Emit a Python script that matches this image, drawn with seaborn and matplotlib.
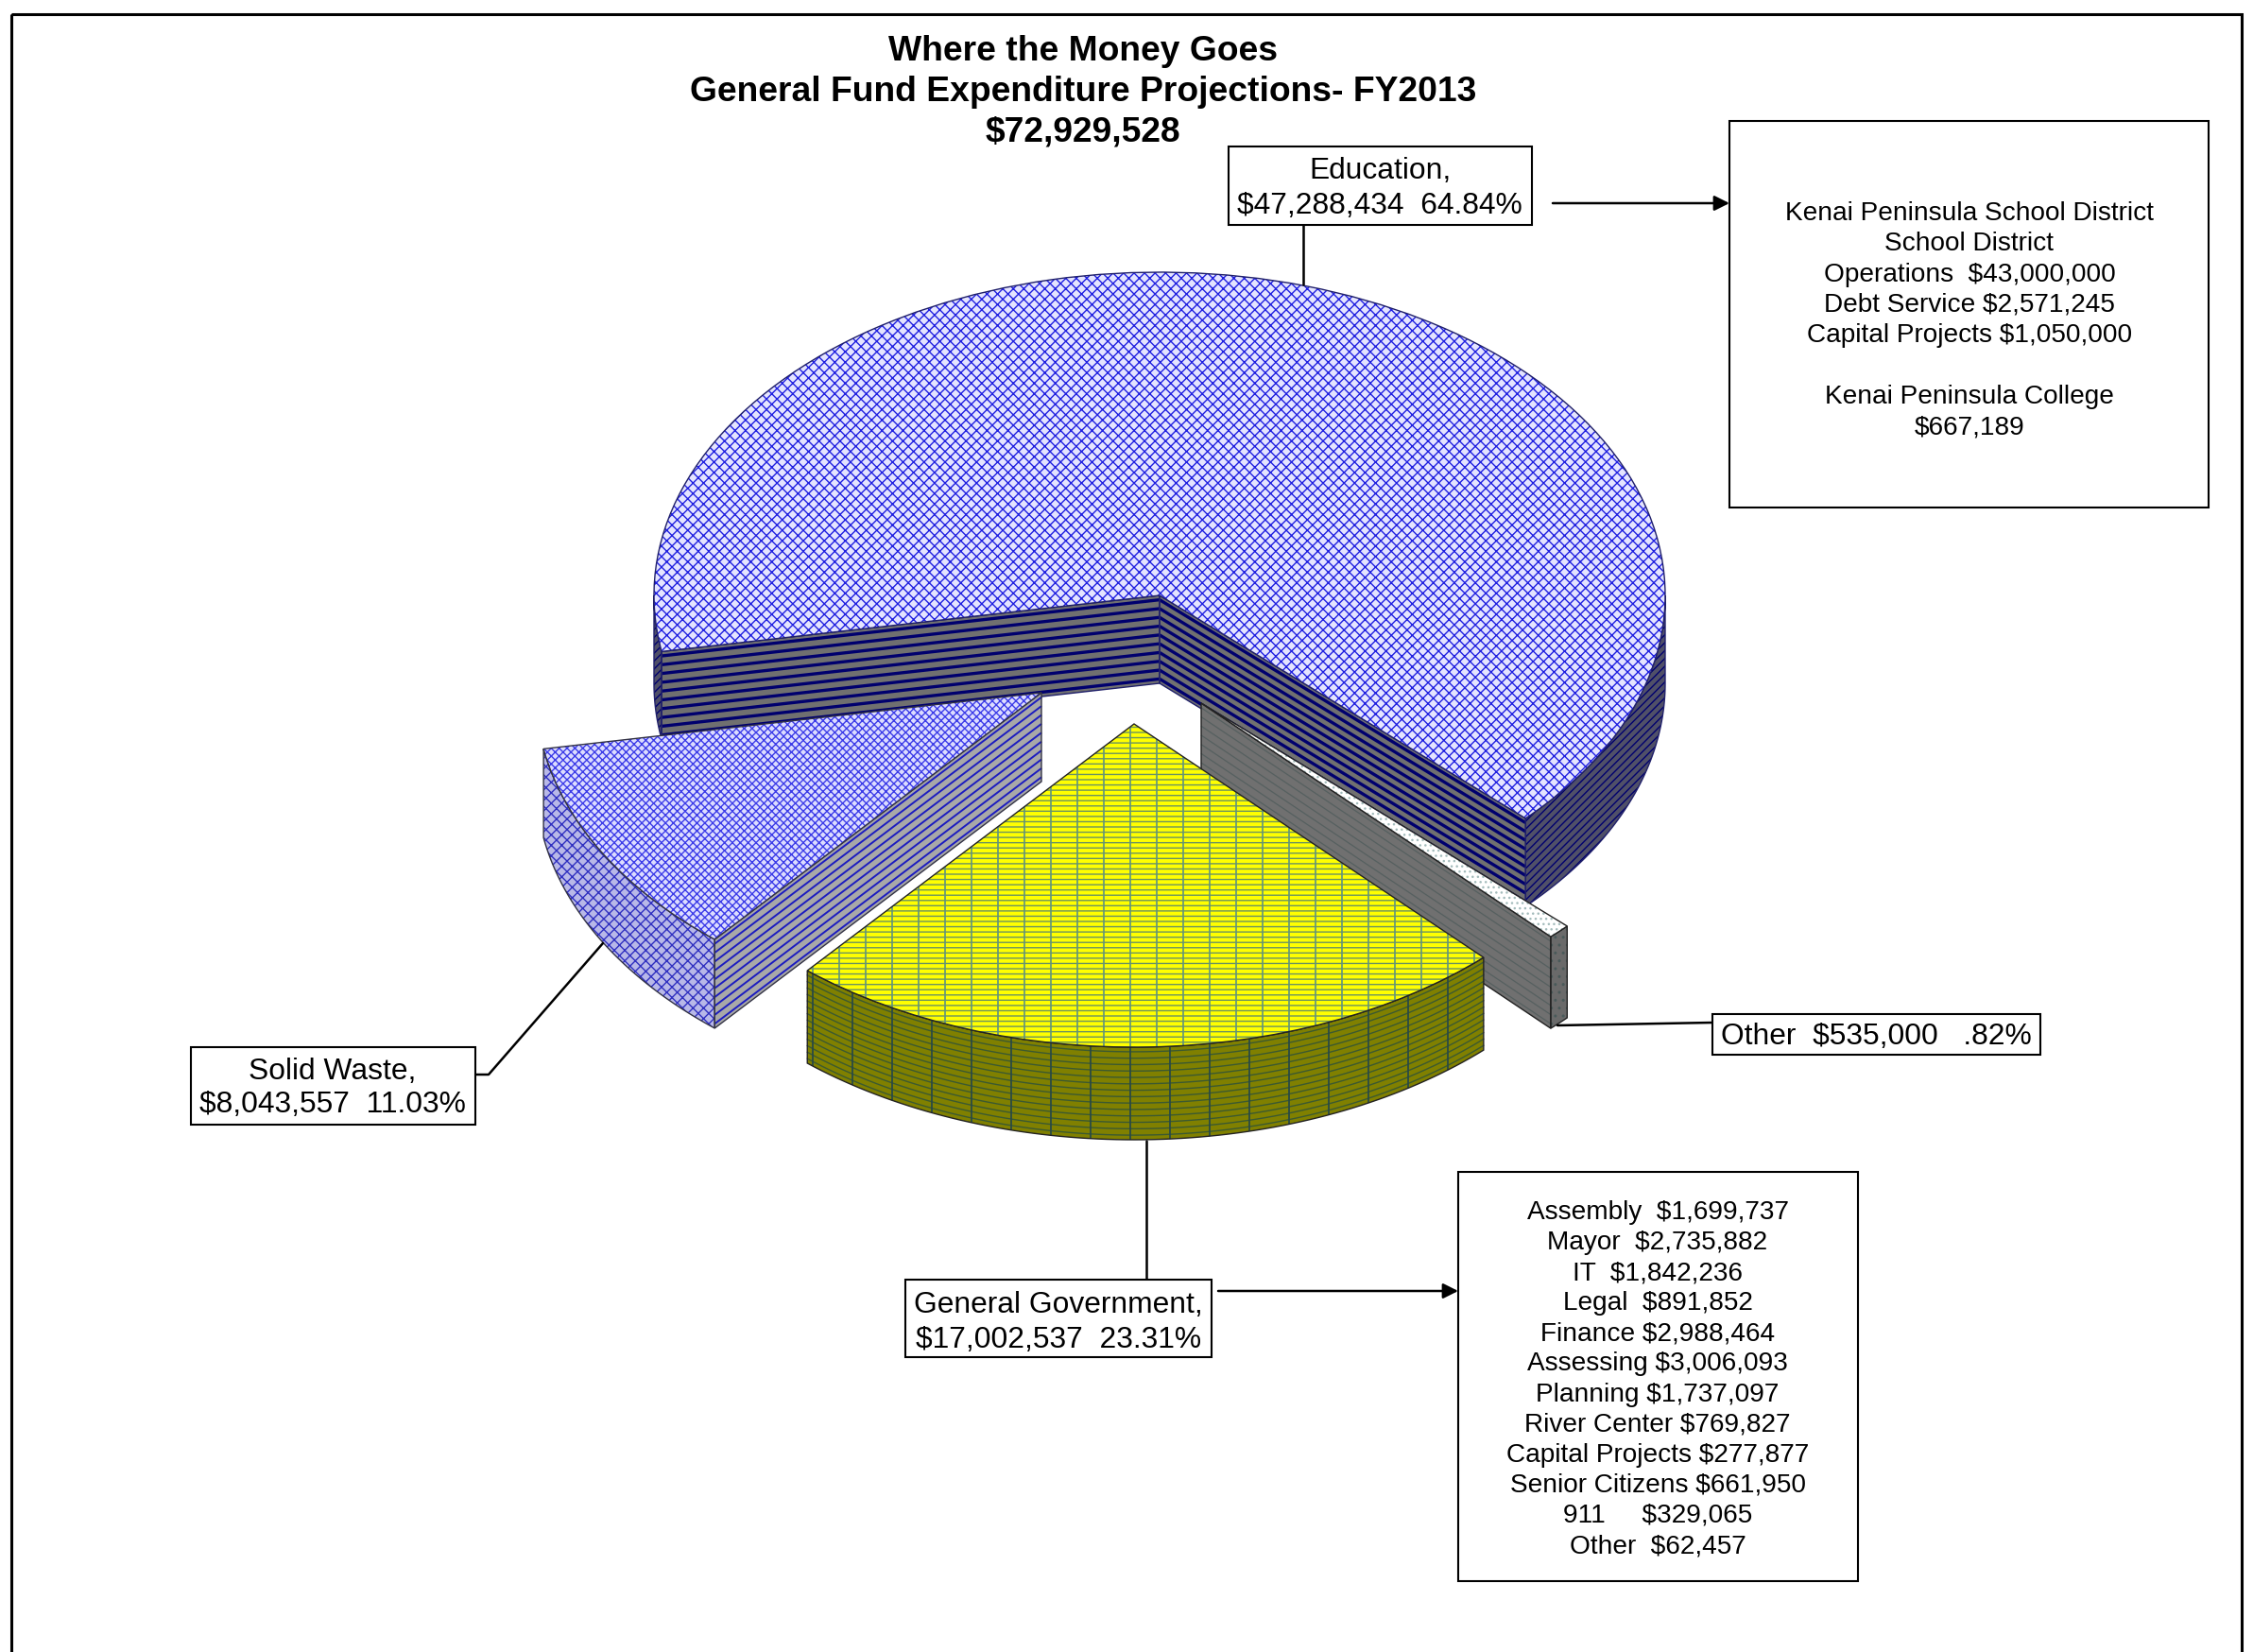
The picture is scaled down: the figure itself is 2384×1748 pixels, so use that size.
import numpy as np
import matplotlib
matplotlib.use('Agg')
import matplotlib.pyplot as plt
import seaborn as sns
from matplotlib.patches import Polygon, Rectangle, Wedge

# data, clockwise from the cut on the left of the Education slice
slices = ['Education', 'Other', 'General Government', 'Solid Waste']
amounts = [47288434, 535000, 17002537, 8043557]

title_lines = ['Where the Money Goes', 'General Fund Expenditure Projections- FY2013', '$72,929,528']
education_label = ['Education,', '$47,288,434  64.84%']
solid_label = ['Solid Waste,', '$8,043,557  11.03%']
other_label = ['Other  $535,000   .82%']
general_label = ['General Government,', '$17,002,537  23.31%']
education_detail = ['Kenai Peninsula School District', 'School District', 'Operations  $43,000,000',
                    'Debt Service $2,571,245', 'Capital Projects $1,050,000', '',
                    'Kenai Peninsula College', '$667,189']
general_detail = ['Assembly  $1,699,737', 'Mayor  $2,735,882', 'IT  $1,842,236', 'Legal  $891,852',
                  'Finance $2,988,464', 'Assessing $3,006,093', 'Planning $1,737,097',
                  'River Center $769,827', 'Capital Projects $277,877', 'Senior Citizens $661,950',
                  '911     $329,065', 'Other  $62,457']

W, H = 2384, 1749
CX, CY = 1227, 631   # pie centre in image pixels
RX, RY = 535, 342    # projected radii in pixels

# where each slice apex sits in the image, and how it is drawn
styles = {
    'Education': dict(apex=(1227, 631), depth=93, top='#e4e4ff', top_hatch='xxx', top_ink='#2020e0',
                      wall='#505068', wall_hatch='////', wall_ink='#00006e', rim='#20206a',
                      cut='#707070', cut_ink='#00006e', cut_lw=2.4, stripes=10, cuts=[0, 1]),
    'Other': dict(apex=(1271, 745), depth=97, top='#ffffff', top_hatch='...', top_ink='#a4bcbc',
                  wall='#6a6a6a', wall_hatch='..', wall_ink='#4a5a5a', rim='#222222',
                  cut='#707070', cut_ink='#566060', cut_lw=0.9, stripes=10, cuts=[0]),
    'General Government': dict(apex=(1200, 767), depth=98, top='#ffff00', top_hatch='---', top_ink='#6c9460',
                               wall='#808000', wall_hatch=None, wall_ink='#3c5a30', rim='#222222',
                               cut='#808000', cut_ink='#3c5a30', cut_lw=1, stripes=0, cuts=[]),
    'Solid Waste': dict(apex=(1102, 734), depth=94, top='#dcdcff', top_hatch='xxxx', top_ink='#3c3ce8',
                        wall='#b8b8e8', wall_hatch='xxx', wall_ink='#3030c0', rim='#333344',
                        cut='#a8a8a8', cut_ink='#1c1cc0', cut_lw=1.4, stripes=10, cuts=[1]),
}


def to_pie(px, py):
    return (px - CX) / RX, (CY - py) / RY


def arc(center, t1, t2, drop=0.0):
    t = np.radians(np.linspace(t1, t2, 80))
    return np.column_stack([center[0] + np.cos(t), center[1] + np.sin(t) - drop])


def front_ranges(t1, t2):
    # parts of the rim that face the viewer
    out = []
    for lo, hi in [(-180, 0), (180, 360)]:
        a, b = max(t1, lo), min(t2, hi)
        if b > a:
            out.append((a, b))
    return out


def draw_walls(ax, center, wedge, st, z):
    drop = st['depth'] / RY
    outline = dict(edgecolor=st['rim'], linewidth=1.0, fill=False, zorder=z + 0.3)
    # radial cut faces
    for which in st['cuts']:
        t = wedge.theta1 if which == 0 else wedge.theta2
        end = arc(center, t, t)[0]
        pts = [center, end, (end[0], end[1] - drop), (center[0], center[1] - drop)]
        ax.add_patch(Polygon(pts, closed=True, facecolor=st['cut'], edgecolor='none', zorder=z))
        for k in np.linspace(0.05, 0.95, st['stripes']):
            ax.plot([center[0], end[0]], [center[1] - k * drop, end[1] - k * drop],
                    color=st['cut_ink'], lw=st['cut_lw'], solid_capstyle='butt', zorder=z + 0.1)
        ax.add_patch(Polygon(pts, closed=True, **outline))
    # outer rim
    for a, b in front_ranges(wedge.theta1, wedge.theta2):
        pts = np.vstack([arc(center, a, b), arc(center, b, a, drop)])
        ax.add_patch(Polygon(pts, closed=True, facecolor=st['wall'], edgecolor=st['wall_ink'],
                             hatch=st['wall_hatch'], linewidth=0, zorder=z))
        rim = Polygon(pts, closed=True, **outline)
        ax.add_patch(rim)
        if st['wall_hatch'] is None:
            # brick courses follow the curve of the rim
            for k in np.linspace(0.05, 0.95, 14):
                course = arc(center, a, b, k * drop)
                ax.plot(course[:, 0], course[:, 1], color=st['wall_ink'], lw=1.0, zorder=z + 0.1)
            xs = np.arange(-1, 1, 42 / RX)
            ticks = ax.vlines(xs, -3, 3, color='#2a4a44', lw=1.3, zorder=z + 0.1)
            ticks.set_clip_path(rim)


sns.set_theme(style='white', rc={'hatch.linewidth': 1.0})
plt.rcParams['font.family'] = ['Liberation Sans', 'DejaVu Sans']

fig = plt.figure(figsize=(W / 100, H / 100), dpi=100, facecolor='white')
ax = fig.add_axes([0, 0, 1, 1])
wedges, _ = ax.pie(amounts, startangle=190, counterclock=False, radius=1.0)
ax.set_aspect('auto')
ax.set_xlim(to_pie(0, 0)[0], to_pie(W, 0)[0])
ax.set_ylim(to_pie(0, H)[1], to_pie(0, 0)[1])
ax.axis('off')

for i, (name, wedge) in enumerate(zip(slices, wedges)):
    st = styles[name]
    z = 2 + i * 2
    center = to_pie(*st['apex'])
    draw_walls(ax, center, wedge, st, z)
    wedge.set_center(center)
    wedge.set(facecolor=st['top'], edgecolor=st['top_ink'], hatch=st['top_hatch'], linewidth=0, zorder=z + 1)
    rim = Wedge(center, 1.0, wedge.theta1, wedge.theta2, fill=False, edgecolor=st['rim'],
                linewidth=1.0, zorder=z + 1.2)
    ax.add_patch(rim)
    if name == 'General Government':
        xs = np.arange(-1, 1, 28 / RX)
        ticks = ax.vlines(xs, -3, 3, color='#5f9480', lw=1.2, zorder=z + 1.1)
        ticks.set_clip_path(rim)

# overlay in image pixels for the frame, boxes and leaders
ov = fig.add_axes([0, 0, 1, 1], facecolor='none')
ov.set_xlim(0, W)
ov.set_ylim(H, 0)
ov.axis('off')
sns.despine(ax=ov, left=True, bottom=True)
ov.add_patch(Rectangle((12, 16), 2360, 1800, fill=False, edgecolor='black', lw=2.2))


def text_block(lines, x, y0, step, size, bold=False):
    for k, line in enumerate(lines):
        ov.text(x, y0 + k * step, line, ha='center', va='center', fontsize=size, color='black',
                fontweight='bold' if bold else 'normal')


def box(x0, y0, x1, y1):
    ov.add_patch(Rectangle((x0, y0), x1 - x0, y1 - y0, facecolor='white', edgecolor='black', lw=1.5, zorder=5))


def leader(xs, ys):
    ov.plot(xs, ys, color='black', lw=1.8, zorder=4)


def arrow(x0, x1, y):
    ov.annotate('', xy=(x1, y), xytext=(x0, y),
                arrowprops=dict(arrowstyle='-|>', color='black', lw=1.8, mutation_scale=24, shrinkA=0, shrinkB=0))


text_block(title_lines, 1146, 55, 42.5, 26.85, bold=True)

box(1300, 156, 1621, 239)
leader([1379, 1379], [239, 302])
arrow(1643, 1830, 216)
ov.text(1460, 181, education_label[0], ha='center', va='center', fontsize=22.9, color='black')
ov.text(1460, 218, education_label[1], ha='center', va='center', fontsize=22.9, color='black')

box(1830, 129, 2337, 538)
text_block(education_detail, 2084, 226, 32.3, 20.2)

box(202, 1109, 503, 1191)
leader([503, 517, 638], [1138, 1138, 999])
ov.text(352, 1134, solid_label[0], ha='center', va='center', fontsize=22.9, color='black')
ov.text(352, 1169, solid_label[1], ha='center', va='center', fontsize=22.9, color='black')

box(1812, 1074, 2159, 1117)
leader([1812, 1648], [1083, 1086])
ov.text(1985, 1097, other_label[0], ha='center', va='center', fontsize=22.9, color='black')

box(958, 1355, 1282, 1437)
leader([1213, 1213], [1208, 1355])
arrow(1289, 1543, 1367)
ov.text(1120, 1381, general_label[0], ha='center', va='center', fontsize=22.9, color='black')
ov.text(1120, 1418, general_label[1], ha='center', va='center', fontsize=22.9, color='black')

box(1543, 1241, 1966, 1674)
text_block(general_detail, 1754, 1283, 32.1, 20.2)
for t in ov.texts:
    t.set_zorder(6)

fig.savefig('out.png', dpi=100)
plt.close(fig)
